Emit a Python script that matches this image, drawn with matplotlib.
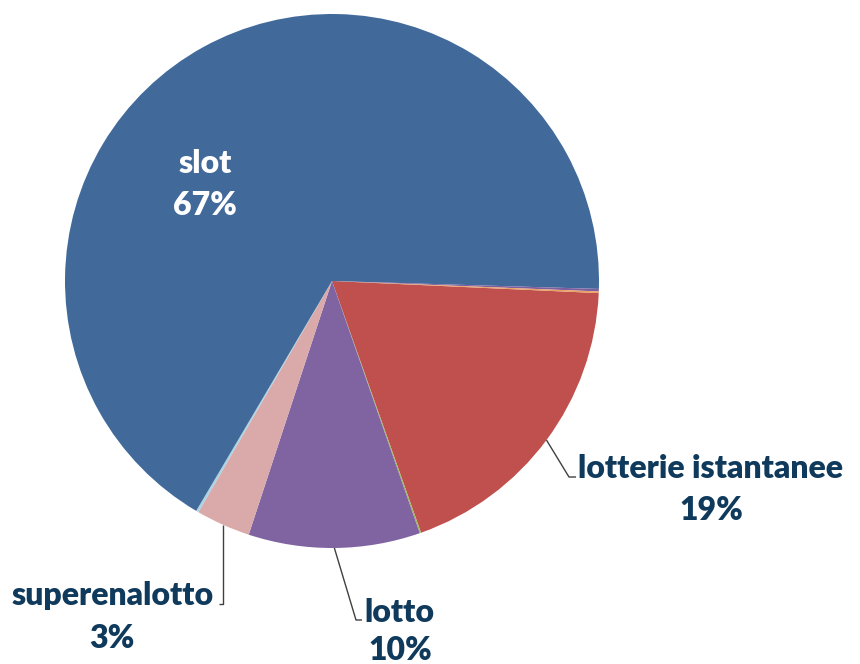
import numpy as np
import matplotlib
matplotlib.use("Agg")
import matplotlib.pyplot as plt

# data (clockwise order starting from the right side)
categories = ["lotterie istantanee", "altro 1", "lotto", "superenalotto", "altro 2", "slot", "altro 3", "altro 4"]
values = [18.9, 0.08, 10.4, 3.3, 0.15, 67.1, 0.15, 0.10]
colors = ["#C0504D", "#9BBB59", "#8064A2", "#D9AAA9", "#A9D3E3", "#416A9B", "#7F5FA0", "#E9A060"]
shown = {"slot", "lotterie istantanee", "lotto", "superenalotto"}

W, H = 860, 664
fig = plt.figure(figsize=(W / 100, H / 100), dpi=100)
ax = fig.add_axes([0, 0, 1, 1])

cx, cy, R = 332, H - 281, 267
wedges, _ = ax.pie(values, colors=colors, startangle=-2.6, counterclock=False,
                   center=(cx, cy), radius=R, frame=True,
                   wedgeprops=dict(linewidth=0))
ax.set_xlim(0, W)
ax.set_ylim(0, H)
ax.set_aspect("equal")
ax.axis("off")

total = sum(values)
txt_col = "#103A5C"
font = dict(family=["Lato", "DejaVu Sans"], fontweight="heavy", fontsize=23)

# label layout in pixel coords from top (baseline positions), leader elbow points
layout = {
    "slot": dict(name=(205, 173), pct=(205, 215), color="white", leader=None),
    "lotterie istantanee": dict(name=(711, 478), pct=(711, 520), color=txt_col,
                                leader=[(569, 477), (576, 477)]),
    "lotto": dict(name=(399, 622), pct=(400, 660), color=txt_col,
                  leader=[(356, 620), (362, 620)]),
    "superenalotto": dict(name=(113, 605), pct=(112, 648), color=txt_col,
                          leader=[(223, 604), (219, 604)]),
}

for w, cat, v in zip(wedges, categories, values):
    if cat not in shown:
        continue
    L = layout[cat]
    pct = f"{round(v / total * 100)}%"
    ax.text(L["name"][0], H - L["name"][1], cat, ha="center", va="baseline",
            color=L["color"], **font)
    ax.text(L["pct"][0], H - L["pct"][1], pct, ha="center", va="baseline",
            color=L["color"], **font)
    if L["leader"]:
        mid = np.deg2rad((w.theta1 + w.theta2) / 2)
        sx, sy = cx + R * np.cos(mid), cy + R * np.sin(mid)
        xs = [sx] + [p[0] for p in L["leader"]]
        ys = [sy] + [H - p[1] for p in L["leader"]]
        if cat == "superenalotto":
            xs[1] = sx
            xs[2] = sx - 4
        ax.plot(xs, ys, color="#404040", lw=1.0, solid_capstyle="butt")

fig.savefig("out.png", dpi=100, facecolor="white")
